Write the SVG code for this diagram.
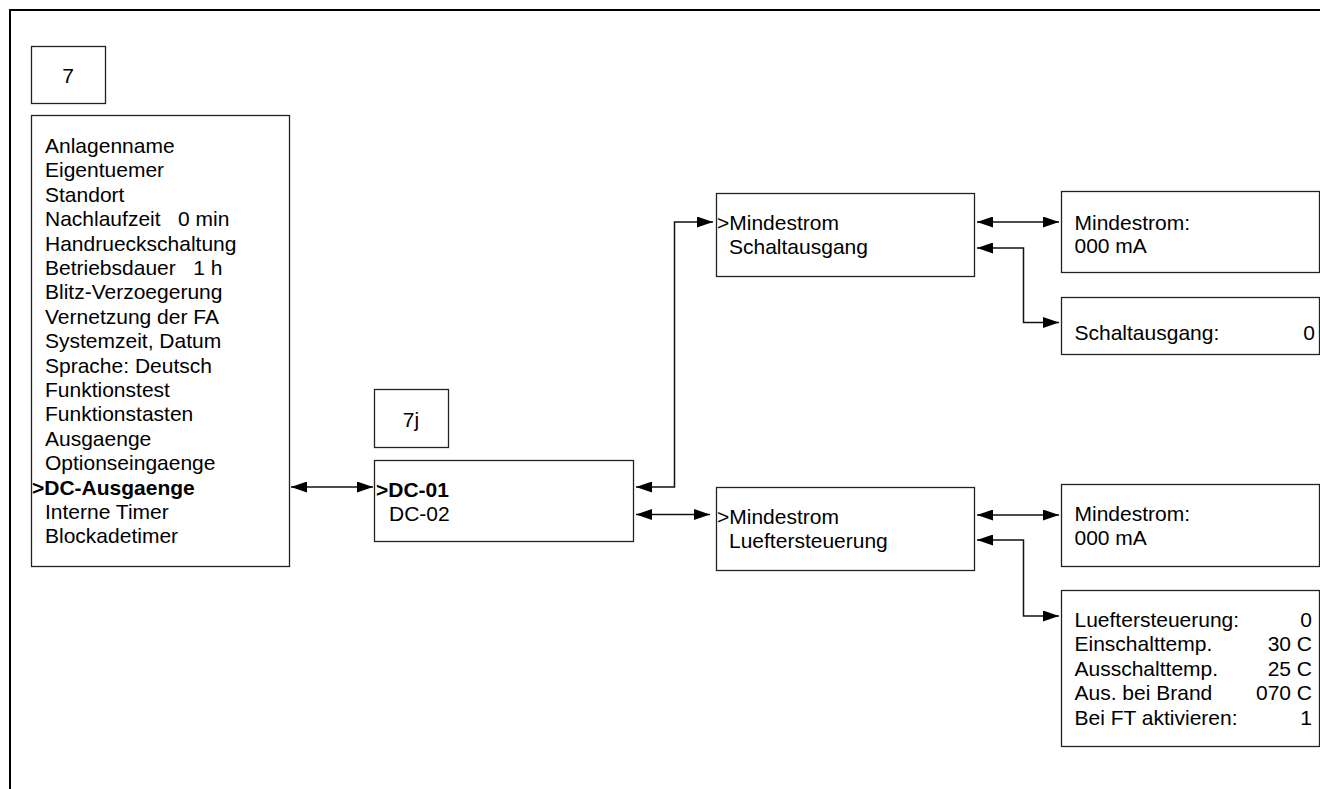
<svg xmlns="http://www.w3.org/2000/svg" width="1320" height="789" viewBox="0 0 1320 789">
<style>
  .box { fill: #fff; stroke: #222; stroke-width: 1.3; }
  .t { font-family: "Liberation Sans", Arial, sans-serif; font-size: 21px; fill: #000; }
  .b { font-weight: bold; }
  .e { text-anchor: end; }
  .m { text-anchor: middle; }
  .con { fill: none; stroke: #111; stroke-width: 1.5; marker-start: url(#ah); marker-end: url(#ah); }
</style>
<defs>
  <marker id="ah" viewBox="0 0 16 11" refX="16" refY="5.5" markerWidth="16" markerHeight="11" orient="auto-start-reverse" markerUnits="userSpaceOnUse">
    <path d="M0,0 L16,5.5 L0,11 Z" fill="#000"/>
  </marker>
</defs>
<rect x="0" y="0" width="1320" height="789" fill="#fff"/>
<path d="M10,789 V10 H1320" fill="none" stroke="#000" stroke-width="2"/>

<g id="node-7">
  <rect class="box" x="31.5" y="46.5" width="74" height="57"/>
  <text class="t m" x="68" y="83">7</text>
</g>

<g id="node-menu">
  <rect class="box" x="31.5" y="115.5" width="258" height="451"/>
  <text class="t" x="45" y="153">Anlagenname</text>
  <text class="t" x="45" y="177.4">Eigentuemer</text>
  <text class="t" x="45" y="201.8">Standort</text>
  <text class="t" x="45" y="226.2" xml:space="preserve">Nachlaufzeit   0 min</text>
  <text class="t" x="45" y="250.6">Handrueckschaltung</text>
  <text class="t" x="45" y="275" xml:space="preserve">Betriebsdauer   1 h</text>
  <text class="t" x="45" y="299.4">Blitz-Verzoegerung</text>
  <text class="t" x="45" y="323.8">Vernetzung der FA</text>
  <text class="t" x="45" y="348.2">Systemzeit, Datum</text>
  <text class="t" x="45" y="372.6">Sprache: Deutsch</text>
  <text class="t" x="45" y="397">Funktionstest</text>
  <text class="t" x="45" y="421.4">Funktionstasten</text>
  <text class="t" x="45" y="445.8">Ausgaenge</text>
  <text class="t" x="45" y="470.2">Optionseingaenge</text>
  <text class="t b" x="32" y="494.6">&gt;DC-Ausgaenge</text>
  <text class="t" x="45" y="519">Interne Timer</text>
  <text class="t" x="45" y="543.4">Blockadetimer</text>
</g>

<g id="node-7j">
  <rect class="box" x="374.5" y="389.5" width="74" height="58"/>
  <text class="t m" x="411" y="427">7j</text>
</g>

<g id="node-dc">
  <rect class="box" x="374.5" y="460.5" width="259" height="81"/>
  <text class="t b" x="376" y="497">&gt;DC-01</text>
  <text class="t" x="389" y="521">DC-02</text>
</g>

<g id="node-m1">
  <rect class="box" x="716.5" y="193.5" width="258" height="83"/>
  <text class="t" x="717" y="230">&gt;Mindestrom</text>
  <text class="t" x="729" y="254">Schaltausgang</text>
</g>

<g id="node-v1">
  <rect class="box" x="1061.5" y="191.5" width="258" height="81"/>
  <text class="t" x="1074.5" y="229.5">Mindestrom:</text>
  <text class="t" x="1074.5" y="253">000 mA</text>
</g>

<g id="node-s1">
  <rect class="box" x="1061.5" y="297.5" width="258" height="57"/>
  <text class="t" x="1074.5" y="339.5">Schaltausgang:</text>
  <text class="t e" x="1315" y="339.5">0</text>
</g>

<g id="node-m2">
  <rect class="box" x="716.5" y="487.5" width="258" height="83"/>
  <text class="t" x="717" y="523.5">&gt;Mindestrom</text>
  <text class="t" x="729" y="548">Lueftersteuerung</text>
</g>

<g id="node-v2">
  <rect class="box" x="1061.5" y="484.5" width="258" height="82"/>
  <text class="t" x="1074.5" y="521">Mindestrom:</text>
  <text class="t" x="1074.5" y="545">000 mA</text>
</g>

<g id="node-l2">
  <rect class="box" x="1061.5" y="590.5" width="258" height="156"/>
  <text class="t" x="1074.5" y="626.5">Lueftersteuerung:</text>
  <text class="t e" x="1312" y="626.5">0</text>
  <text class="t" x="1074.5" y="651">Einschalttemp.</text>
  <text class="t e" x="1312" y="651">30 C</text>
  <text class="t" x="1074.5" y="675.5">Ausschalttemp.</text>
  <text class="t e" x="1312" y="675.5">25 C</text>
  <text class="t" x="1074.5" y="700">Aus. bei Brand</text>
  <text class="t e" x="1312" y="700">070 C</text>
  <text class="t" x="1074.5" y="724.5">Bei FT aktivieren:</text>
  <text class="t e" x="1312" y="724.5">1</text>
</g>

<g id="connectors">
  <path class="con" d="M291,487 H373"/>
  <path class="con" d="M636,487 H674.5 V222 H713"/>
  <path class="con" d="M636,514.5 H710"/>
  <path class="con" d="M977,222 H1059"/>
  <path class="con" d="M977,248 H1023.5 V322.5 H1059"/>
  <path class="con" d="M977,515 H1059"/>
  <path class="con" d="M977,540 H1023.5 V616 H1059"/>
</g>
</svg>
